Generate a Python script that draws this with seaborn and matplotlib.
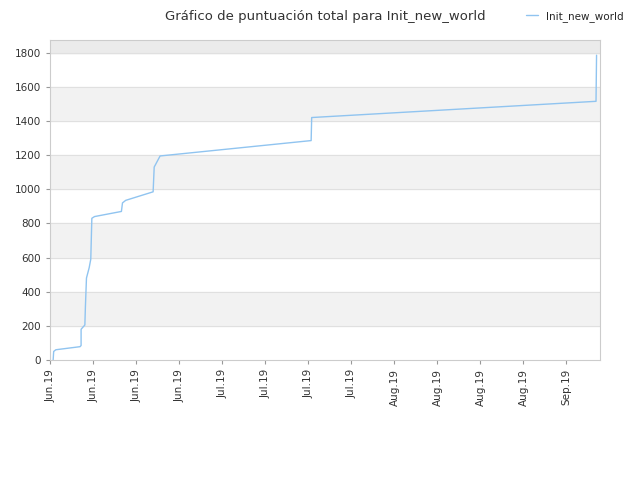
import matplotlib
matplotlib.use("Agg")
import matplotlib.pyplot as plt
import matplotlib.dates as mdates
import seaborn as sns
import pandas as pd
import numpy as np

start = pd.Timestamp("2019-06-01")
days = [0.5, 0.6, 1.0, 5.5, 5.7, 5.7, 6.4, 6.5, 6.7, 7.2, 7.5, 7.7, 8.2, 13.2, 13.4, 14.0, 19.1, 19.3, 20.4, 48.5, 48.6, 101.5, 101.6]
vals = [0, 50, 60, 78, 85, 180, 205, 310, 480, 540, 590, 830, 840, 870, 920, 935, 985, 1130, 1195, 1285, 1420, 1515, 1785]
ticks = pd.date_range("2019-06-01", periods=13, freq="8D")

df = pd.DataFrame({"date": [start + pd.Timedelta(days=d) for d in days], "score": vals, "serie": "Init_new_world"})

sns.set_style("white")
fig, ax = plt.subplots(figsize=(6.4, 4.8), dpi=100)
fig.subplots_adjust(left=0.078, right=0.938, top=0.917, bottom=0.25)
for lo in range(200, 2000, 400):
    ax.axhspan(lo, lo + 200, color="#f2f2f2", zorder=0)
ax.axhspan(1800, 1900, color="#ebebeb", zorder=0)
for y in range(200, 1900, 200):
    ax.axhline(y, color="#e0e0e0", lw=0.8, zorder=0.5)
sns.lineplot(data=df, x="date", y="score", hue="serie", palette=["#90c4f0"], sort=False, estimator=None, lw=1, ax=ax)
ax.set_ylim(0, 1875)
ax.set_xlim(start - pd.Timedelta(days=0.1), start + pd.Timedelta(days=102.3))
ax.set_yticks(range(0, 1801, 200))
ax.set_xticks(ticks)
ax.xaxis.set_major_formatter(mdates.DateFormatter("%b.%y"))
plt.setp(ax.get_xticklabels(), rotation=90, fontsize=7.5, color="#333333")
plt.setp(ax.get_yticklabels(), fontsize=7.5, color="#333333")
ax.tick_params(axis="both", length=3, color="#999999", bottom=True, left=True)
ax.set_xlabel(""); ax.set_ylabel("")
for s in ax.spines.values():
    s.set_color("#cccccc")
ax.set_title("Gráfico de puntuación total para Init_new_world", fontsize=9.5, color="#333333", pad=14)
ax.legend(loc="upper right", bbox_to_anchor=(1.06, 1.12), frameon=False, fontsize=7.5, handlelength=1.2)
fig.savefig("out.png")
